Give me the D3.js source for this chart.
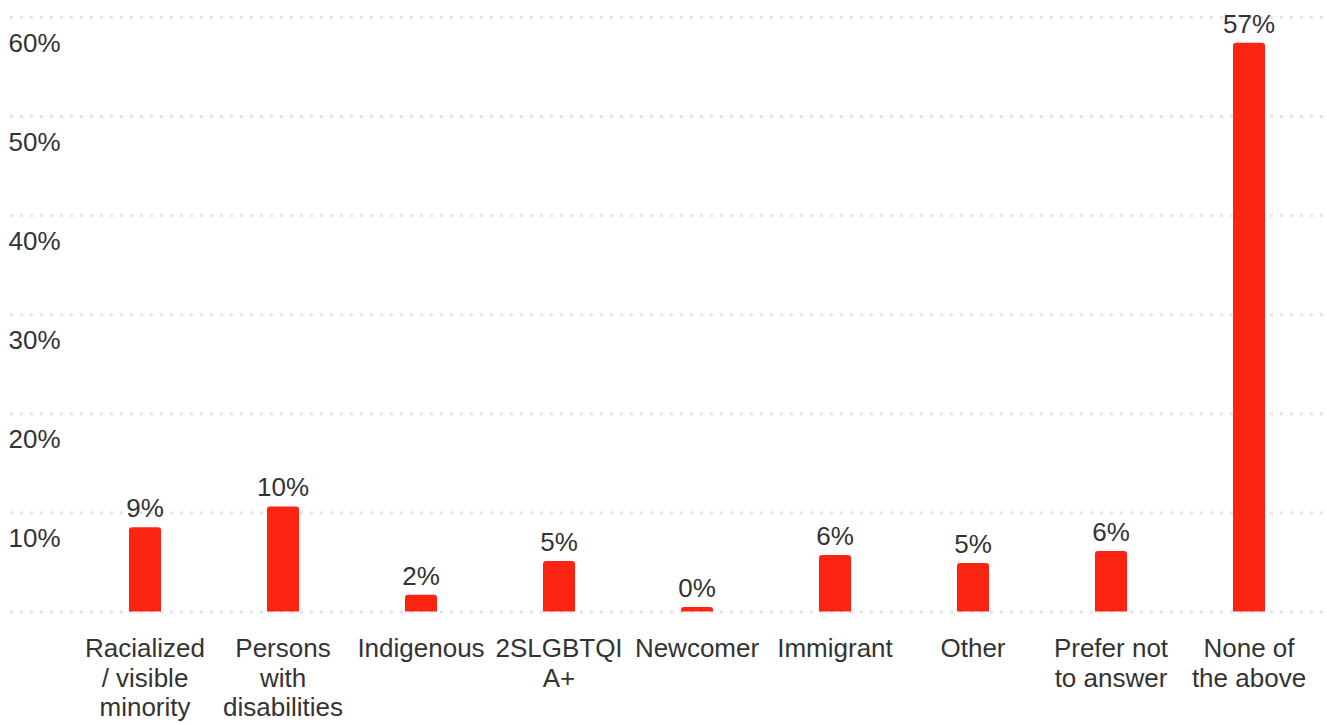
<!DOCTYPE html>
<html>
<head>
<meta charset="utf-8">
<script src="https://cdn.jsdelivr.net/npm/d3@7"></script>
<style>
  html, body { margin: 0; padding: 0; background: #fff; }
  svg { display: block; }
  text { font-family: "Liberation Sans", Arial, Helvetica, sans-serif; fill: #333; }
</style>
</head>
<body>
<svg id="chart" width="1327" height="725"></svg>
<script>
const categories = ["Racialized / visible minority", "Persons with disabilities", "Indigenous", "2SLGBTQIA+", "Newcomer", "Immigrant", "Other", "Prefer not to answer", "None of the above"];
const values = [8.5, 10.6, 1.7, 5.1, 0.45, 5.7, 4.9, 6.1, 57.4];
const valueLabels = ["9%", "10%", "2%", "5%", "0%", "6%", "5%", "6%", "57%"];
const tickValues = [0, 10, 20, 30, 40, 50, 60];
const tickLabels = ["", "10%", "20%", "30%", "40%", "50%", "60%"];

const W = 1327, H = 725;
const svg = d3.select("#chart");
const fontSize = 26;
const barColor = "#fb2412";

const y = d3.scaleLinear().domain([0, 60]).range([611.5, 17]);
const x = d3.scaleBand().domain(categories).range([76, 1318])
  .paddingInner(0.768).paddingOuter(0.384);

// gridlines + tick labels
const axis = d3.axisRight(y).tickValues(tickValues).tickSize(W - 10)
  .tickFormat((d, i) => tickLabels[i]);
const gAxis = svg.append("g").attr("transform", "translate(10,0)").call(axis);
gAxis.select(".domain").remove();
gAxis.selectAll(".tick line")
  .attr("stroke", "#e5e5e5").attr("stroke-width", 3)
  .attr("stroke-dasharray", "3,7");
gAxis.selectAll(".tick text")
  .attr("x", -1.5).attr("dy", 0).attr("y", 34.5)
  .attr("text-anchor", "start")
  .style("font-size", fontSize + "px")
  .style("font-family", '"Liberation Sans", Arial, sans-serif')
  .attr("fill", "#333");

// bars with rounded top corners
const r = 3;
function barPath(x0, w, yTop, yBot) {
  const rr = Math.min(r, (yBot - yTop), w / 2);
  return `M${x0},${yBot} L${x0},${yTop + rr} Q${x0},${yTop} ${x0 + rr},${yTop} L${x0 + w - rr},${yTop} Q${x0 + w},${yTop} ${x0 + w},${yTop + rr} L${x0 + w},${yBot} Z`;
}
svg.append("g").selectAll("path").data(categories).join("path")
  .attr("d", (c, i) => barPath(x(c), x.bandwidth(), y(values[i]), y(0)))
  .attr("fill", barColor);

// value labels
svg.append("g").selectAll("text").data(categories).join("text")
  .attr("x", c => x(c) + x.bandwidth() / 2)
  .attr("y", (c, i) => y(values[i]) - 10)
  .attr("text-anchor", "middle")
  .style("font-size", fontSize + "px")
  .text((c, i) => valueLabels[i]);

// category labels with wrapping
const maxW = 130;
const lineH = 29.5;
const gLab = svg.append("g");
categories.forEach(c => {
  const t = gLab.append("text")
    .attr("x", x(c) + x.bandwidth() / 2)
    .attr("y", 657)
    .attr("text-anchor", "middle")
    .style("font-size", fontSize + "px");
  const measure = t.append("tspan");
  const lines = [];
  let cur = "";
  const fits = s => { measure.text(s); return measure.node().getComputedTextLength() <= maxW; };
  c.split(" ").forEach(word => {
    const cand = cur ? cur + " " + word : word;
    if (fits(cand)) { cur = cand; return; }
    if (cur) { lines.push(cur); cur = ""; }
    let piece = "";
    for (const ch of word) {
      if (fits(piece + ch)) piece += ch;
      else { lines.push(piece); piece = ch; }
    }
    cur = piece;
  });
  if (cur) lines.push(cur);
  measure.remove();
  lines.forEach((ln, i) => {
    t.append("tspan")
      .attr("x", x(c) + x.bandwidth() / 2)
      .attr("dy", i === 0 ? 0 : lineH)
      .text(ln);
  });
});
</script>
</body>
</html>
